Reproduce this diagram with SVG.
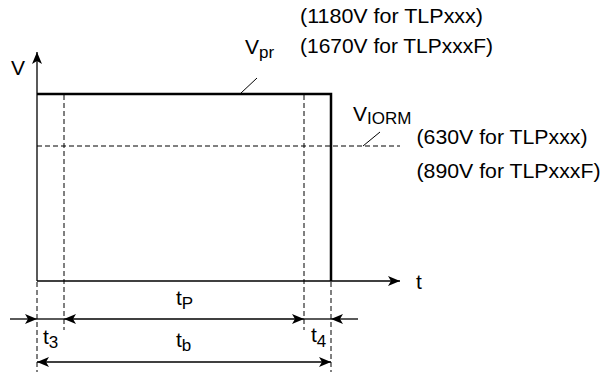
<svg xmlns="http://www.w3.org/2000/svg" width="605" height="374" viewBox="0 0 605 374">
<defs>
<marker id="ah" viewBox="0 0 12 10" refX="12" refY="5" markerWidth="12" markerHeight="10" markerUnits="userSpaceOnUse" orient="auto">
<path d="M0,0 L12,5 L0,10 L3,5 Z" fill="#000"/>
</marker>
</defs>
<style>
text{font-family:"Liberation Sans",Arial,sans-serif;font-size:21px;fill:#000}
.sub{font-size:17px}
.s{stroke:#000;stroke-width:1.3;fill:none}
.th{stroke:#000;stroke-width:2.5;fill:none}
.d{stroke:#000;stroke-width:1;fill:none;stroke-dasharray:5,3}
</style>
<rect width="605" height="374" fill="#fff"/>
<g id="axes">
<line class="s" x1="37" y1="281" x2="37" y2="52" marker-end="url(#ah)"/>
<line class="s" x1="37" y1="281" x2="400" y2="281" marker-end="url(#ah)"/>
<text x="11" y="75">V</text>
<text x="416" y="289">t</text>
</g>
<g id="pulse">
<polyline class="th" points="37,94 331,94 331,281"/>
</g>
<g id="guides">
<line class="d" x1="37" y1="146" x2="400" y2="146"/>
<line class="d" x1="64" y1="95" x2="64" y2="330"/>
<line class="d" x1="304" y1="95" x2="304" y2="330"/>
<line class="d" x1="37" y1="282" x2="37" y2="372"/>
<line class="d" x1="331" y1="282" x2="331" y2="372"/>
</g>
<g id="labels">
<line class="s" x1="241" y1="93" x2="257" y2="78" style="stroke-width:1"/>
<text x="245" y="54">V<tspan class="sub" dy="4">pr</tspan></text>
<text x="300" y="22.5" textLength="183" lengthAdjust="spacingAndGlyphs">(1180V for TLPxxx)</text>
<text x="300" y="52.5" textLength="193" lengthAdjust="spacingAndGlyphs">(1670V for TLPxxxF)</text>
<line class="s" x1="363" y1="146" x2="380" y2="132" style="stroke-width:1"/>
<text x="353" y="121">V<tspan class="sub" dy="3">IORM</tspan></text>
<text x="416.5" y="143.5" textLength="171" lengthAdjust="spacingAndGlyphs">(630V for TLPxxx)</text>
<text x="416.5" y="177.5" textLength="184" lengthAdjust="spacingAndGlyphs">(890V for TLPxxxF)</text>
</g>
<g id="connectors">
<line class="s" x1="10" y1="319" x2="37" y2="319" marker-end="url(#ah)"/>
<line class="s" x1="37" y1="319" x2="64" y2="319"/>
<line class="s" x1="184" y1="319" x2="64" y2="319" marker-end="url(#ah)"/>
<line class="s" x1="184" y1="319" x2="304" y2="319" marker-end="url(#ah)"/>
<line class="s" x1="304" y1="319" x2="331" y2="319"/>
<line class="s" x1="358" y1="319" x2="331" y2="319" marker-end="url(#ah)"/>
<line class="s" x1="184" y1="362" x2="37" y2="362" marker-end="url(#ah)"/>
<line class="s" x1="184" y1="362" x2="331" y2="362" marker-end="url(#ah)"/>
</g>
<g id="timelabels">
<text x="176" y="305">t<tspan class="sub" dy="4">P</tspan></text>
<text x="176" y="347">t<tspan class="sub" dy="4">b</tspan></text>
<text x="43" y="344">t<tspan class="sub" dy="4">3</tspan></text>
<text x="311" y="342">t<tspan class="sub" dy="5">4</tspan></text>
</g>
</svg>
